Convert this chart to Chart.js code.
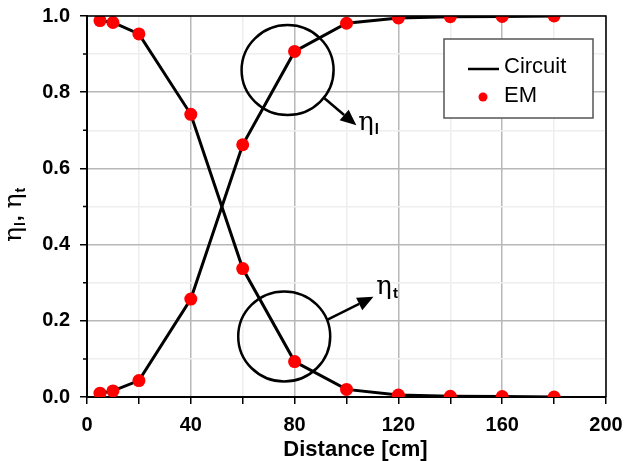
<!DOCTYPE html>
<html>
<head>
<meta charset="utf-8">
<script src="https://cdn.jsdelivr.net/npm/chart.js@4.4.1/dist/chart.umd.min.js"></script>
<style>
  html, body { margin: 0; padding: 0; background: #fff; }
  #wrap { width: 625px; height: 461px; }
</style>
</head>
<body>
<div id="wrap"><canvas id="chart" width="625" height="461"></canvas></div>
<script>
// distance in cm
const distance = [5, 10, 20, 40, 60, 80, 100, 120, 140, 160, 180];

// EM simulation (red dots)
const emEtaT = [0.988, 0.983, 0.953, 0.742, 0.337, 0.093, 0.020, 0.005, 0.002, 0.001, 0.000];
const emEtaL = [0.010, 0.016, 0.043, 0.257, 0.662, 0.907, 0.981, 0.995, 0.998, 0.999, 1.000];

// circuit model (black line)
const circuitEtaT = [0.988, 0.983, 0.953, 0.742, 0.337, 0.093, 0.020, 0.005, 0.002, 0.001, 0.000];
const circuitEtaL = [0.010, 0.016, 0.043, 0.257, 0.662, 0.907, 0.981, 0.995, 0.998, 0.999, 1.000];

const xTicks = [0, 40, 80, 120, 160, 200];
const yTicks = [0.0, 0.2, 0.4, 0.6, 0.8, 1.0];
const yMinor = [0.1, 0.3, 0.5, 0.7, 0.9];

function toPoints(xs, ys) {
  return xs.map((x, i) => ({ x: x, y: ys[i] }));
}

const isMajorY = (v) => Math.round(v * 10) % 2 === 0;

const tickFont = { family: 'Liberation Sans, Arial, sans-serif', size: 20, weight: 'bold' };

// frame, short minor ticks, legend, circles + arrows, axis titles
const extras = {
  id: 'extras',
  afterDraw(chart) {
    const ctx = chart.ctx;
    const a = chart.chartArea;
    const xs = chart.scales.x, ys = chart.scales.y;
    ctx.save();

    // top / right frame
    ctx.strokeStyle = '#000';
    ctx.lineWidth = 1.5;
    ctx.beginPath();
    ctx.moveTo(a.left, a.top);
    ctx.lineTo(a.right, a.top);
    ctx.lineTo(a.right, a.bottom);
    ctx.stroke();

    // short minor ticks on the y axis
    ctx.beginPath();
    yMinor.forEach(v => {
      const py = ys.getPixelForValue(v);
      ctx.moveTo(a.left - 4, py);
      ctx.lineTo(a.left, py);
    });
    ctx.stroke();

    // legend box
    const lx = a.right - 162, ly = a.top + 23, lw = 149, lh = 79;
    ctx.fillStyle = '#fff';
    ctx.fillRect(lx, ly, lw, lh);
    ctx.strokeStyle = '#555';
    ctx.lineWidth = 1.5;
    ctx.strokeRect(lx, ly, lw, lh);
    ctx.strokeStyle = '#000';
    ctx.lineWidth = 2.5;
    ctx.beginPath();
    ctx.moveTo(lx + 24, ly + 30);
    ctx.lineTo(lx + 55, ly + 30);
    ctx.stroke();
    ctx.fillStyle = 'red';
    ctx.beginPath();
    ctx.arc(lx + 39, ly + 58, 4.5, 0, Math.PI * 2);
    ctx.fill();
    ctx.fillStyle = '#000';
    ctx.font = '22px Liberation Sans, Arial, sans-serif';
    ctx.textBaseline = 'alphabetic';
    ctx.textAlign = 'left';
    ctx.fillText('Circuit', lx + 60, ly + 34);
    ctx.fillText('EM', lx + 60, ly + 63);

    // circles
    ctx.strokeStyle = '#000';
    ctx.lineWidth = 2.5;
    ctx.beginPath();
    ctx.ellipse(xs.getPixelForValue(77.3), ys.getPixelForValue(0.858), 46, 45, 0, 0, Math.PI * 2);
    ctx.stroke();
    ctx.beginPath();
    ctx.ellipse(xs.getPixelForValue(76), ys.getPixelForValue(0.159), 46, 45, 0, 0, Math.PI * 2);
    ctx.stroke();

    function arrow(x0, y0, x1, y1) {
      const px0 = xs.getPixelForValue(x0), py0 = ys.getPixelForValue(y0);
      const px1 = xs.getPixelForValue(x1), py1 = ys.getPixelForValue(y1);
      const ang = Math.atan2(py1 - py0, px1 - px0);
      const hl = 16, hw = 7;
      const bx = px1 - hl * Math.cos(ang), by = py1 - hl * Math.sin(ang);
      ctx.beginPath();
      ctx.moveTo(px0, py0);
      ctx.lineTo(bx, by);
      ctx.stroke();
      ctx.beginPath();
      ctx.moveTo(px1, py1);
      ctx.lineTo(bx + hw * Math.sin(ang), by - hw * Math.cos(ang));
      ctx.lineTo(bx - hw * Math.sin(ang), by + hw * Math.cos(ang));
      ctx.closePath();
      ctx.fill();
    }
    ctx.fillStyle = '#000';
    arrow(91.5, 0.784, 103.8, 0.713);
    arrow(92.7, 0.203, 110.4, 0.263);

    function eta(px, py, sub) {
      ctx.textAlign = 'left';
      ctx.textBaseline = 'alphabetic';
      ctx.font = '26px DejaVu Serif, Liberation Serif, serif';
      ctx.fillText('\u03b7', px, py);
      const w = ctx.measureText('\u03b7').width;
      ctx.font = 'bold 15px Liberation Sans, Arial, sans-serif';
      ctx.fillText(sub, px + w + 1, py + 4);
    }
    eta(xs.getPixelForValue(104.5), ys.getPixelForValue(0.70), 'l');
    eta(xs.getPixelForValue(111.5), ys.getPixelForValue(0.27), 't');

    // x axis title
    ctx.font = 'bold 22px Liberation Sans, Arial, sans-serif';
    ctx.textAlign = 'center';
    ctx.textBaseline = 'alphabetic';
    ctx.fillText('Distance [cm]', (a.left + a.right) / 2 + 9, 456);

    // y axis title
    ctx.translate(25, (a.top + a.bottom) / 2 + 8);
    ctx.rotate(-Math.PI / 2);
    const parts = [
      ['\u03b7', '25px DejaVu Serif, Liberation Serif, serif', 0],
      ['l', 'bold 14px Liberation Sans, Arial, sans-serif', 4],
      [', ', 'bold 21px Liberation Sans, Arial, sans-serif', 0],
      ['\u03b7', '25px DejaVu Serif, Liberation Serif, serif', 0],
      ['t', 'bold 14px Liberation Sans, Arial, sans-serif', 4]
    ];
    let total = 0;
    parts.forEach(p => { ctx.font = p[1]; total += ctx.measureText(p[0]).width + 1; });
    let cx = -total / 2;
    ctx.textAlign = 'left';
    parts.forEach(p => {
      ctx.font = p[1];
      ctx.fillText(p[0], cx, p[2] - 4);
      cx += ctx.measureText(p[0]).width + 1;
    });

    ctx.restore();
  }
};

new Chart(document.getElementById('chart'), {
  type: 'scatter',
  data: {
    datasets: [
      {
        label: 'EM',
        data: toPoints(distance, emEtaT),
        backgroundColor: 'red',
        borderColor: 'red',
        pointRadius: 6.5,
        pointBorderWidth: 0,
        showLine: false,
        clip: 0,
        order: 0
      },
      {
        label: 'EM',
        data: toPoints(distance, emEtaL),
        backgroundColor: 'red',
        borderColor: 'red',
        pointRadius: 6.5,
        pointBorderWidth: 0,
        showLine: false,
        clip: 0,
        order: 0
      },
      {
        label: 'Circuit',
        data: toPoints(distance, circuitEtaT),
        borderColor: '#000',
        borderWidth: 3,
        pointRadius: 0,
        showLine: true,
        order: 1
      },
      {
        label: 'Circuit',
        data: toPoints(distance, circuitEtaL),
        borderColor: '#000',
        borderWidth: 3,
        pointRadius: 0,
        showLine: true,
        order: 1
      }
    ]
  },
  options: {
    responsive: false,
    animation: false,
    layout: { padding: { left: 0, right: 19, top: 16, bottom: 0 } },
    plugins: {
      legend: { display: false },
      tooltip: { enabled: false }
    },
    scales: {
      x: {
        type: 'linear',
        min: 0,
        max: 200,
        afterFit(scale) {
          scale.height = 64;
          scale.paddingLeft = 0;
          scale.paddingRight = 0;
        },
        ticks: {
          stepSize: 20,
          color: '#000',
          font: tickFont,
          padding: 9,
          maxRotation: 0,
          callback: (v) => xTicks.includes(v) ? String(v) : ''
        },
        grid: {
          color: (c) => xTicks.includes(c.tick.value) ? '#b8b8b8' : '#eeeeee',
          lineWidth: 1.5,
          tickColor: '#000',
          tickLength: 7,
          tickWidth: 1.5
        },
        border: { color: '#000', width: 2 }
      },
      y: {
        type: 'linear',
        min: 0,
        max: 1,
        afterFit(scale) {
          scale.width = 87;
          scale.paddingTop = 0;
          scale.paddingBottom = 0;
        },
        ticks: {
          stepSize: 0.1,
          color: '#000',
          font: tickFont,
          padding: 10,
          callback: (v) => isMajorY(v) ? (Math.round(v * 10) / 10).toFixed(1) : ''
        },
        grid: {
          color: (c) => isMajorY(c.tick.value) ? '#b8b8b8' : '#eeeeee',
          lineWidth: 1.5,
          tickColor: (c) => isMajorY(c.tick.value) ? '#000' : 'rgba(0,0,0,0)',
          tickLength: 7,
          tickWidth: 1.5
        },
        border: { color: '#000', width: 2 }
      }
    }
  },
  plugins: [extras]
});
</script>
</body>
</html>
